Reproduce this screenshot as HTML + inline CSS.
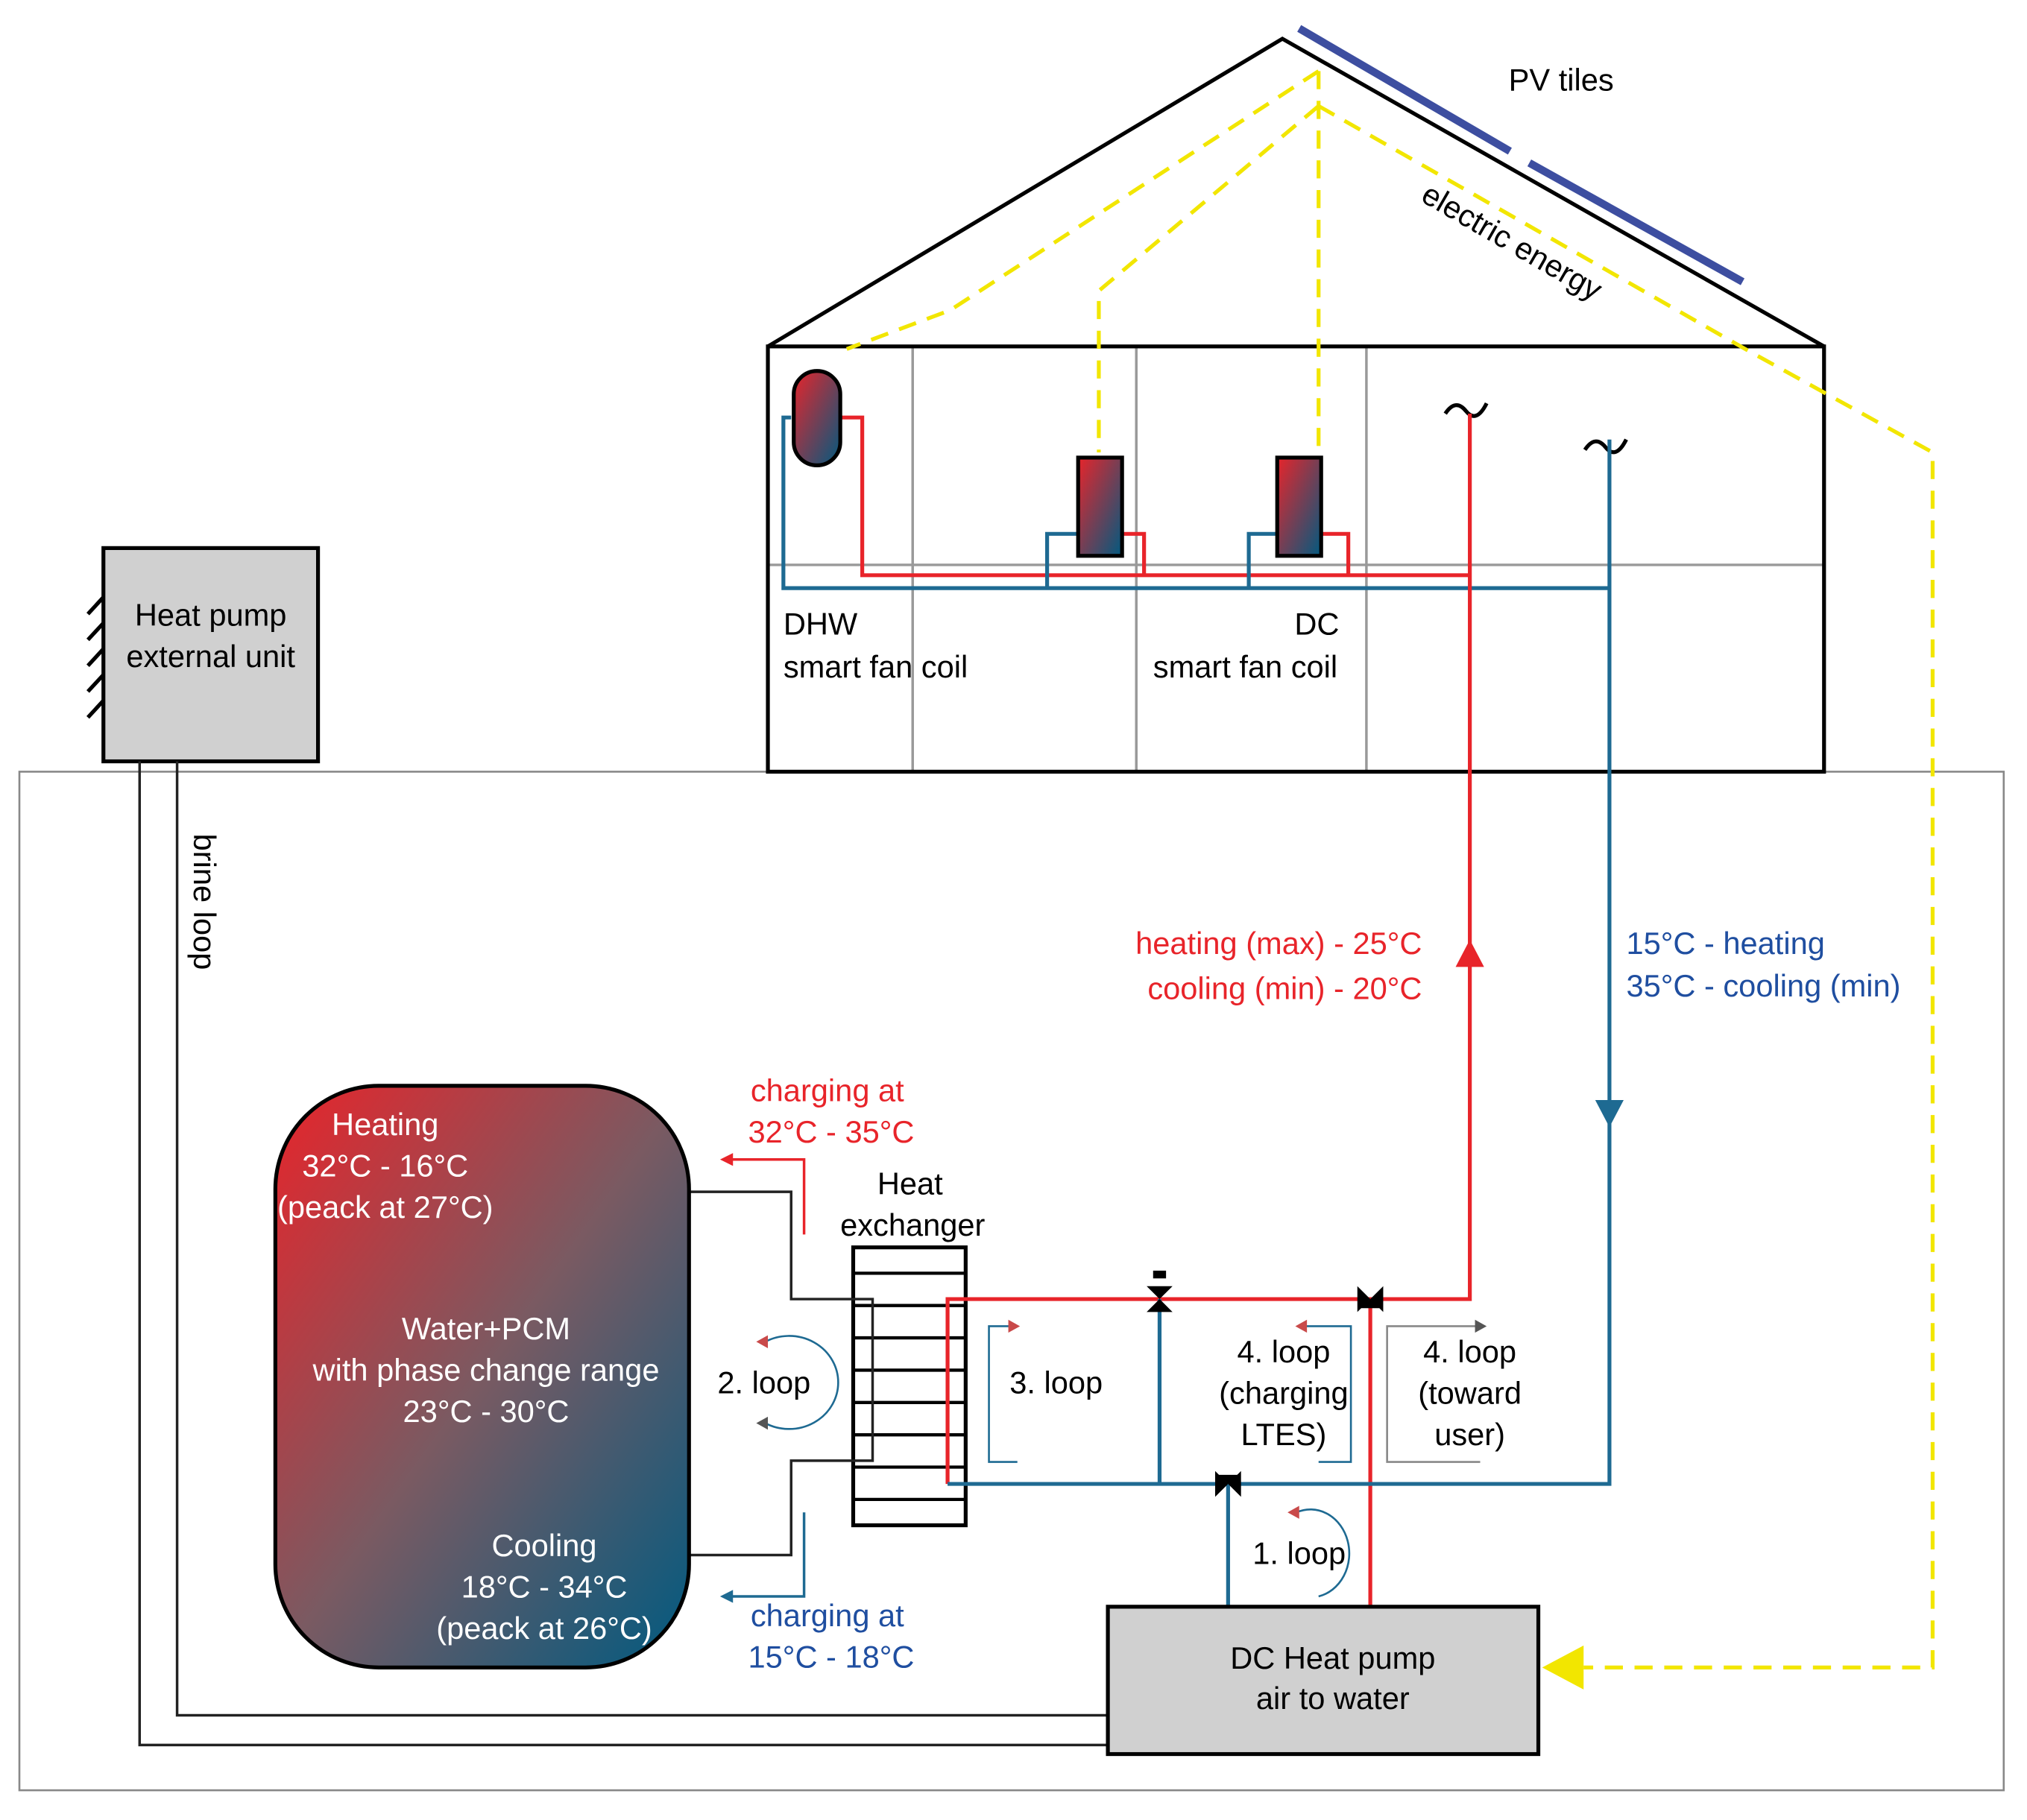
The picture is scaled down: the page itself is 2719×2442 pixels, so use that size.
<!DOCTYPE html>
<html><head><meta charset="utf-8"><style>
html,body{margin:0;padding:0;background:#fff}
svg{display:block}
text{font-family:"Liberation Sans",sans-serif;font-size:24px}
</style></head><body>
<svg width="2719" height="2442" viewBox="0 0 1568 1408" preserveAspectRatio="none" xmlns="http://www.w3.org/2000/svg">
<defs>
<linearGradient id="g" x1="0" y1="0" x2="1" y2="1">
<stop offset="0" stop-color="#e8242a"/><stop offset="0.5" stop-color="#7a5a62"/><stop offset="1" stop-color="#005a80"/>
</linearGradient>
<linearGradient id="g2" x1="0" y1="0" x2="1" y2="1">
<stop offset="0" stop-color="#e8242a"/><stop offset="1" stop-color="#005a80"/>
</linearGradient>
</defs>
<rect x="15" y="597" width="1535" height="788" fill="none" stroke="#888" stroke-width="1.5"/>
<polyline points="594,268 992,30 1411,268" fill="none" stroke="#000" stroke-width="3"/>
<g stroke="#999" stroke-width="2">
<line x1="706" y1="268" x2="706" y2="597"/><line x1="879" y1="268" x2="879" y2="597"/><line x1="1057" y1="268" x2="1057" y2="597"/>
<line x1="594" y1="437" x2="1411" y2="437"/>
</g>
<rect x="594" y="268" width="817" height="329" fill="none" stroke="#000" stroke-width="3"/>
<line x1="1005" y1="22" x2="1168" y2="117" stroke="#3d4ea0" stroke-width="6"/>
<line x1="1183" y1="126" x2="1348" y2="218" stroke="#3d4ea0" stroke-width="6"/>
<text x="1167" y="70">PV tiles</text>
<text x="1098" y="155" transform="rotate(30 1098 155)">electric energy</text>
<g fill="none" stroke="#f2e600" stroke-width="3" stroke-dasharray="14,9">
<line x1="1020" y1="55" x2="1020" y2="345"/>
<polyline points="1020,82 850,225 850,350"/>
<polyline points="1020,55 735,240 655,270"/>
<polyline points="1020,82 1350,270 1495,350 1495,1290 1225,1290"/>
</g>
<polygon points="1193,1290 1225,1273 1225,1307" fill="#f2e600"/>
<rect x="80" y="424" width="166" height="165" fill="#d0d0d0" stroke="#000" stroke-width="3"/>
<g stroke="#000" stroke-width="3">
<line x1="68" y1="475" x2="80" y2="462"/><line x1="68" y1="495" x2="80" y2="482"/><line x1="68" y1="515" x2="80" y2="502"/><line x1="68" y1="535" x2="80" y2="522"/><line x1="68" y1="555" x2="80" y2="542"/>
</g>
<text x="163" y="484" text-anchor="middle">Heat pump</text>
<text x="163" y="516" text-anchor="middle">external unit</text>
<polyline points="108,589 108,1350 857,1350" fill="none" stroke="#222" stroke-width="2"/>
<polyline points="137,589 137,1327 857,1327" fill="none" stroke="#222" stroke-width="2"/>
<text x="150" y="645" transform="rotate(90 150 645)">brine loop</text>
<polyline points="650,323 667,323 667,445 1137,445" fill="none" stroke="#e8242a" stroke-width="3"/>
<polyline points="612,323 606,323 606,455 1245,455" fill="none" stroke="#1e6a92" stroke-width="3"/>
<polyline points="834,413 810,413 810,455" fill="none" stroke="#1e6a92" stroke-width="3"/>
<polyline points="868,413 885,413 885,445" fill="none" stroke="#e8242a" stroke-width="3"/>
<polyline points="988,413 966,413 966,455" fill="none" stroke="#1e6a92" stroke-width="3"/>
<polyline points="1022,413 1043,413 1043,445" fill="none" stroke="#e8242a" stroke-width="3"/>
<rect x="614" y="287" width="36" height="73" rx="18" fill="url(#g2)" stroke="#000" stroke-width="3"/>
<rect x="834" y="354" width="34" height="76" fill="url(#g2)" stroke="#000" stroke-width="3"/>
<rect x="988" y="354" width="34" height="76" fill="url(#g2)" stroke="#000" stroke-width="3"/>
<path d="M1118,320 q8,-12 16,-2 t16,-6" fill="none" stroke="#000" stroke-width="3"/>
<path d="M1226,348 q8,-12 16,-2 t16,-6" fill="none" stroke="#000" stroke-width="3"/>
<text x="606" y="491">DHW</text>
<text x="606" y="524">smart fan coil</text>
<text x="1036" y="491" text-anchor="end">DC</text>
<text x="892" y="524">smart fan coil</text>
<rect x="660" y="965" width="87" height="215" fill="#fff" stroke="#000" stroke-width="3"/>
<g stroke="#000" stroke-width="2.5">
<line x1="660" y1="985" x2="747" y2="985"/><line x1="660" y1="1010" x2="747" y2="1010"/><line x1="660" y1="1035" x2="747" y2="1035"/><line x1="660" y1="1060" x2="747" y2="1060"/><line x1="660" y1="1085" x2="747" y2="1085"/><line x1="660" y1="1110" x2="747" y2="1110"/><line x1="660" y1="1135" x2="747" y2="1135"/><line x1="660" y1="1160" x2="747" y2="1160"/>
</g>
<text x="704" y="924" text-anchor="middle">Heat</text><text x="706" y="956" text-anchor="middle">exchanger</text>
<polyline points="533,922 612,922 612,1005 675,1005 675,1130 612,1130 612,1203 533,1203" fill="none" stroke="#222" stroke-width="2"/>
<polyline points="1060,1243 1060,1005" fill="none" stroke="#e8242a" stroke-width="3"/>
<polyline points="733,1148 733,1005 1137,1005 1137,320" fill="none" stroke="#e8242a" stroke-width="3"/>
<polygon points="1137,727 1126,748 1148,748" fill="#e8242a"/>
<polyline points="733,1148 1245,1148 1245,340" fill="none" stroke="#1e6a92" stroke-width="3"/>
<polygon points="1245,872 1234,851 1256,851" fill="#1e6a92"/>
<line x1="950" y1="1243" x2="950" y2="1148" stroke="#1e6a92" stroke-width="3"/>
<line x1="897" y1="1005" x2="897" y2="1148" stroke="#1e6a92" stroke-width="3"/>
<g fill="#000">
<polygon points="887,995 907,995 897,1005"/><polygon points="887,1015 907,1015 897,1005"/><rect x="892" y="983" width="10" height="6"/>
<polygon points="1050,995 1050,1015 1060,1005"/><polygon points="1070,995 1070,1015 1060,1005"/><polygon points="1052,1012 1068,1012 1060,1005"/>
<polygon points="940,1138 940,1158 950,1148"/><polygon points="960,1138 960,1158 950,1148"/><polygon points="942,1141 958,1141 950,1148"/>
</g>
<text x="1100" y="738" text-anchor="end" fill="#e8242a">heating (max) - 25°C</text>
<text x="1100" y="773" text-anchor="end" fill="#e8242a">cooling (min) - 20°C</text>
<text x="1258" y="738" fill="#1f4ea0">15°C - heating</text>
<text x="1258" y="771" fill="#1f4ea0">35°C - cooling (min)</text>
<rect x="213" y="840" width="320" height="450" rx="80" fill="url(#g)" stroke="#000" stroke-width="3"/>
<g fill="#fff" text-anchor="middle">
<text x="298" y="878">Heating</text><text x="298" y="910">32°C - 16°C</text><text x="298" y="942">(peack at 27°C)</text>
<text x="376" y="1036">Water+PCM</text><text x="376" y="1068">with phase change range</text><text x="376" y="1100">23°C - 30°C</text>
<text x="421" y="1204">Cooling</text><text x="421" y="1236">18°C - 34°C</text><text x="421" y="1268">(peack at 26°C)</text>
</g>
<polyline points="622,955 622,897 565,897" fill="none" stroke="#e8242a" stroke-width="2"/>
<polygon points="557,897 567,892 567,902" fill="#e8242a"/>
<polyline points="622,1170 622,1235 565,1235" fill="none" stroke="#1e6a92" stroke-width="2"/>
<polygon points="557,1235 567,1230 567,1240" fill="#1e6a92"/>
<text x="640" y="852" text-anchor="middle" fill="#e8242a">charging at</text>
<text x="643" y="884" text-anchor="middle" fill="#e8242a">32°C - 35°C</text>
<text x="640" y="1258" text-anchor="middle" fill="#1f4ea0">charging at</text>
<text x="643" y="1290" text-anchor="middle" fill="#1f4ea0">15°C - 18°C</text>
<text x="591" y="1078" text-anchor="middle">2. loop</text>
<path d="M592,1038 a38,36 0 1 1 0,63" fill="none" stroke="#1e6a92" stroke-width="1.5"/>
<polygon points="585,1038 594,1033 594,1043" fill="#c94a4a"/>
<polygon points="585,1101 594,1096 594,1106" fill="#555"/>
<text x="817" y="1078" text-anchor="middle">3. loop</text>
<polyline points="787,1131 765,1131 765,1026 782,1026" fill="none" stroke="#1e6a92" stroke-width="1.5"/>
<polygon points="789,1026 780,1021 780,1031" fill="#c94a4a"/>
<text x="993" y="1054" text-anchor="middle">4. loop</text><text x="993" y="1086" text-anchor="middle">(charging</text><text x="993" y="1118" text-anchor="middle">LTES)</text>
<polyline points="1020,1131 1045,1131 1045,1026 1010,1026" fill="none" stroke="#1e6a92" stroke-width="1.5"/>
<polygon points="1002,1026 1011,1021 1011,1031" fill="#c94a4a"/>
<text x="1137" y="1054" text-anchor="middle">4. loop</text><text x="1137" y="1086" text-anchor="middle">(toward</text><text x="1137" y="1118" text-anchor="middle">user)</text>
<polyline points="1145,1131 1073,1131 1073,1026 1142,1026" fill="none" stroke="#888" stroke-width="1.5"/>
<polygon points="1150,1026 1141,1021 1141,1031" fill="#555"/>
<text x="1005" y="1210" text-anchor="middle">1. loop</text>
<path d="M1003,1170 a30,34 0 1 1 17,65" fill="none" stroke="#1e6a92" stroke-width="1.5"/>
<polygon points="996,1170 1005,1165 1005,1175" fill="#c94a4a"/>
<rect x="857" y="1243" width="333" height="114" fill="#d0d0d0" stroke="#000" stroke-width="3"/>
<text x="1031" y="1291" text-anchor="middle">DC Heat pump</text>
<text x="1031" y="1322" text-anchor="middle">air to water</text>
</svg>
</body></html>
